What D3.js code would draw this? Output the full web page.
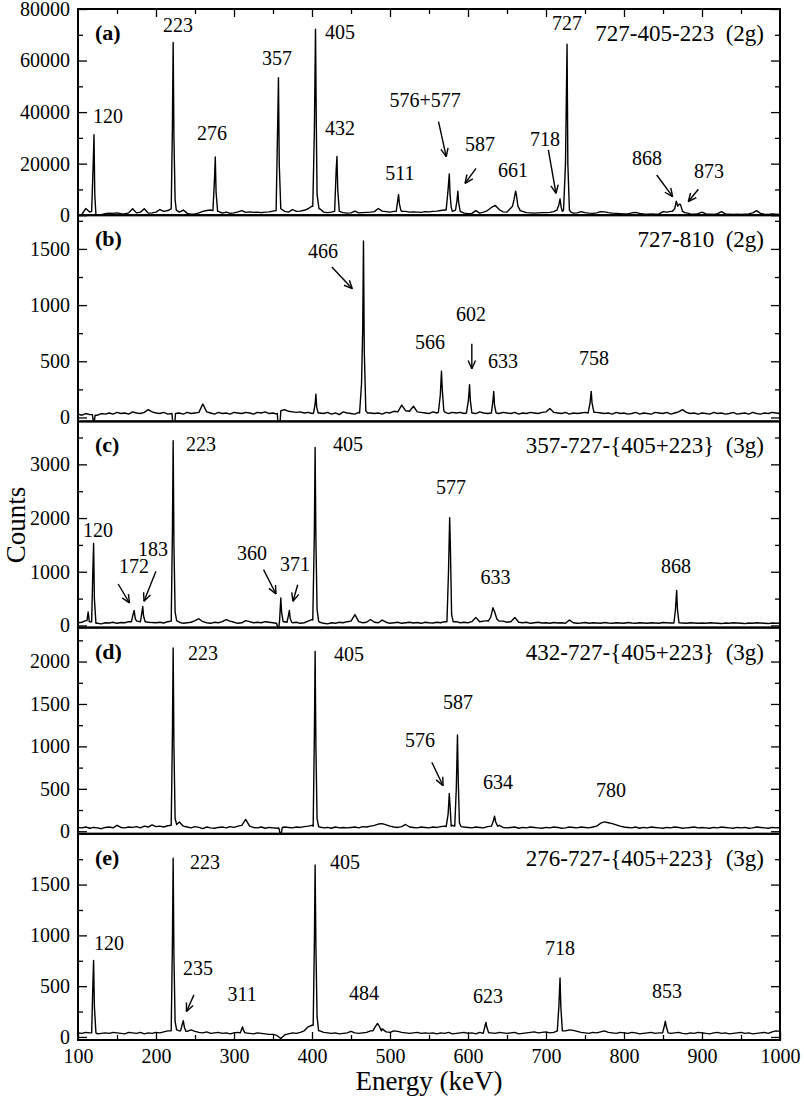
<!DOCTYPE html>
<html>
<head>
<meta charset="utf-8">
<script src="https://cdn.jsdelivr.net/npm/d3@7"></script>
<style>
    body { margin: 0; background: #fff; }
    text { font-family: "Liberation Serif", "Times New Roman", serif; fill: #000; }
</style>
</head>
<body>
<div id="chart"></div>
<script>

// background counts, one value every 5 keV from 100 to 1000 keV
let bgA = [
    200, 300, 2600, 1200, 500, 0, 200, 600, 800, 700,
    900, 600, 500, 900, 2500, 900, 1200, 2500, 800, 900,
    1200, 2200, 1500, 1800, 2500, 3000, 1200, 2000, 700, 400,
    500, 900, 1500, 1800, 2000, 1800, 1500, 800, 1200, 700,
    900, 1300, 1800, 1100, 1300, 1100, 1200, 1000, 1200, 1300,
    1600, 2000, 2500, 1500, 1200, 2200, 1500, 1600, 1900, 2500,
    3500, 3000, 2500, 1200, 1000, 1200, 1500, 1500, 1000, 800,
    900, 1600, 900, 1000, 1100, 1200, 1400, 2600, 1600, 1400,
    1200, 1500, 1800, 1500, 1500, 1200, 1300, 1200, 1100, 1400,
    1300, 1500, 1600, 1800, 2000, 2000, 1500, 1500, 1200, 800,
    600, 700, 1800, 800, 1200, 1800, 3000, 3800, 2200, 1300,
    1200, 2500, 3000, 3000, 1500, 1000, 900, 800, 900, 1000,
    1000, 1100, 1400, 2000, 2500, 2500, 2500, 800, 900, 1400,
    1000, 800, 700, 900, 1400, 1300, 1000, 800, 700, 600,
    500, 500, 900, 1100, 700, 500, 400, 500, 400, 500,
    1400, 1200, 1500, 1500, 1500, 1500, 900, 500, 400, 600,
    1200, 500, 400, 300, 600, 1400, 500, 400, 300, 400,
    300, 400, 500, 900, 1800, 700, 400, 300, 500, 400,
    300
];
let bgB = [
    30, 20, 35, 25, 15, 20, 35, 30, 40, 30,
    45, 35, 40, 30, 50, 40, 35, 45, 70, 50,
    40, 35, 45, 30, 35, 40, 40, 30, 45, 35,
    40, 45, 120, 50, 40, 30, 45, 35, 40, 30,
    45, 40, 35, 45, 40, 30, 45, 40, 50, 35,
    40, 30, 45, 70, 55, 50, 45, 50, 40, 45,
    35, 40, 40, 35, 45, 30, 40, 25, 50, 40,
    35, 30, 45, 35, 40, 40, 35, 40, 30, 45,
    40, 55, 50, 110, 60, 55, 100, 50, 45, 40,
    35, 50, 40, 45, 40, 35, 45, 40, 45, 35,
    40, 45, 35, 50, 40, 35, 40, 50, 35, 45,
    40, 35, 45, 30, 40, 35, 45, 40, 35, 45,
    50, 80, 45, 40, 35, 45, 30, 40, 35, 40,
    45, 40, 35, 45, 40, 35, 40, 30, 45, 35,
    40, 30, 35, 45, 30, 40, 35, 30, 45, 40,
    35, 45, 30, 40, 50, 70, 45, 35, 40, 30,
    40, 35, 30, 45, 35, 40, 30, 35, 45, 30,
    35, 40, 30, 45, 35, 30, 40, 35, 45, 40,
    35
];
let bgC = [
    50, 60, 90, 70, 60, 40, 30, 50, 45, 60,
    40, 55, 50, 70, 80, 90, 70, 80, 60, 55,
    50, 60, 45, 70, 80, 90, 60, 40, 50, 60,
    90, 125, 70, 50, 40, 60, 50, 70, 110, 80,
    60, 40, 50, 90, 70, 50, 60, 50, 70, 60,
    50, 30, 60, 70, 60, 50, 60, 40, 50, 80,
    110, 100, 60, 40, 30, 50, 40, 60, 50, 70,
    80, 200, 70, 50, 60, 110, 60, 50, 100, 60,
    40, 50, 60, 40, 50, 60, 45, 55, 40, 60,
    50, 45, 60, 50, 70, 80, 60, 70, 50, 60,
    50, 70, 150, 70, 80, 90, 200, 330, 200, 80,
    60, 70, 150, 60, 50, 60, 40, 50, 60, 45,
    50, 40, 55, 45, 50, 40, 100, 50, 40, 45,
    55, 40, 50, 45, 40, 55, 45, 40, 50, 45,
    40, 55, 45, 40, 50, 45, 40, 50, 45, 40,
    55, 50, 45, 50, 60, 45, 40, 50, 45, 40,
    45, 40, 50, 45, 40, 35, 45, 40, 50, 45,
    40, 35, 45, 40, 50, 45, 40, 35, 45, 40,
    45
];
let bgD = [
    45, 40, 50, 35, 45, 40, 30, 45, 50, 40,
    70, 45, 40, 50, 45, 55, 40, 60, 50, 75,
    55, 60, 50, 65, 70, 70, 110, 60, 50, 40,
    55, 45, 30, 50, 40, 35, 45, 50, 40, 55,
    45, 60, 70, 140, 60, 45, 40, 50, 35, 45,
    40, 35, 20, 50, 45, 40, 50, 45, 55, 60,
    70, 60, 50, 40, 45, 35, 50, 40, 45, 40,
    45, 50, 40, 55, 50, 60, 70, 85, 90, 75,
    60, 50, 45, 55, 80, 50, 45, 40, 50, 45,
    40, 50, 45, 55, 60, 60, 70, 60, 60, 50,
    45, 40, 50, 45, 40, 55, 60, 170, 70, 45,
    40, 45, 50, 35, 45, 40, 50, 45, 40, 35,
    45, 40, 50, 45, 35, 40, 50, 45, 40, 50,
    45, 40, 50, 60, 95, 110, 100, 90, 75, 60,
    50, 45, 40, 50, 35, 45, 40, 50, 45, 40,
    35, 45, 40, 50, 45, 35, 40, 45, 50, 40,
    45, 40, 35, 45, 40, 50, 45, 40, 35, 45,
    40, 45, 35, 40, 50, 45, 40, 35, 45, 40,
    45
];
let bgE = [
    40, 35, 45, 40, 40, 30, 35, 40, 35, 45,
    40, 35, 30, 45, 40, 35, 45, 30, 40, 35,
    45, 40, 50, 60, 70, 80, 60, 90, 55, 70,
    55, 45, 40, 50, 35, 40, 45, 35, 40, 30,
    40, 45, 50, 40, 35, 30, 40, 35, 30, 25,
    25, 15, -15, 20, 30, 40, 35, 45, 60, 100,
    115, 90, 60, 45, 40, 35, 40, 30, 35, 40,
    55, 40, 35, 40, 45, 60, 100, 130, 80, 50,
    45, 60, 55, 45, 40, 35, 40, 45, 35, 40,
    35, 40, 30, 40, 35, 45, 30, 35, 40, 45,
    35, 40, 30, 45, 35, 40, 40, 35, 45, 40,
    35, 40, 45, 30, 35, 40, 45, 50, 40, 45,
    50, 40, 45, 55, 60, 60, 70, 65, 55, 45,
    40, 35, 45, 40, 50, 60, 45, 40, 35, 45,
    40, 35, 45, 40, 30, 35, 40, 45, 35, 40,
    45, 40, 35, 40, 45, 35, 30, 40, 35, 45,
    40, 35, 30, 40, 45, 35, 40, 30, 35, 40,
    45, 35, 40, 30, 35, 40, 45, 35, 50, 60,
    55
];

// peak shapes, [energy, counts]
let peaksA = [
    [[117.5, 1500], [119.5, 20000], [120.5, 31200], [121.5, 8000], [123, 200]],
    [[219.5, 2500], [221, 33500], [222, 67000], [223, 30000], [224.5, 6000], [226, 2000]],
    [[273, 1800], [275, 14000], [276, 22600], [277, 9000], [279, 1500]],
    [[354, 1800], [356, 35500], [357, 53300], [358, 20000], [360, 2500]],
    [[401, 3500], [403, 32000], [404.5, 72200], [405.5, 36000], [406.5, 8000], [409, 2500]],
    [[429, 1500], [431, 17500], [432, 22800], [433, 10000], [435, 1500]],
    [[508, 1500], [510, 6000], [511, 8000], [512, 4500], [514, 1800]],
    [[572, 2000], [574.5, 10000], [576, 16000], [577, 8000], [578.5, 3000]],
    [[584, 2000], [586, 6000], [587, 9300], [588, 5000], [590, 1500]],
    [[654, 2500], [657, 3500], [659, 6000], [661, 9300], [662, 8000], [664, 3500], [667, 1800]],
    [[714, 2000], [716.5, 4000], [718, 6300], [719.5, 3000], [721, 1500]],
    [[722.5, 2000], [725, 20000], [726, 43500], [727, 66300], [728, 20000], [730, 2000], [732, 1200]],
    [[862, 1500], [865, 2500], [867, 5400], [869, 3500], [871, 4300], [872.5, 4100], [875, 1500], [878, 1000]]
];
let peaksB = [
    [[118.5, 25], [119.5, -30], [121, -30], [122, 20]],
    [[220.5, 35], [221.5, -60], [224, -60], [225, 35]],
    [[355.5, 35], [356.5, -60], [359, -60], [360, 60]],
    [[402, 40], [404, 120], [405, 208], [406, 90], [408, 40]],
    [[461, 40], [463.5, 300], [465, 785], [466, 1570], [467, 600], [469, 60], [471, 40]],
    [[562, 45], [564.5, 200], [566, 411], [567, 250], [569, 60], [571, 45]],
    [[598, 40], [600.5, 150], [602, 292], [603, 150], [605, 40]],
    [[630, 40], [632, 150], [633, 232], [634, 110], [636, 40]],
    [[754, 40], [756.5, 130], [758, 232], [759, 130], [761.5, 45]]
];
let peaksC = [
    [[111.5, 90], [113, 250], [114.5, 70]],
    [[117.5, 70], [119, 1000], [120, 1526], [121, 500], [123, 40]],
    [[168.5, 70], [170.5, 200], [172, 280], [173.5, 120], [175.5, 80]],
    [[180, 70], [182, 250], [183, 355], [184, 180], [186, 70]],
    [[219.5, 80], [221, 1700], [222, 3440], [223, 1500], [224.5, 250], [226.5, 90]],
    [[354.5, 40], [356, -30], [357.5, -30], [358.5, 100], [360, 510], [361, 250], [363, 70]],
    [[368, 60], [370, 200], [371, 280], [372, 130], [374, 60]],
    [[401, 100], [403, 1700], [404, 3314], [405, 1600], [406.5, 300], [408.5, 80]],
    [[573, 70], [575, 1000], [576.5, 2006], [577.5, 1400], [579, 200], [581, 70]],
    [[626, 80], [629, 150], [632, 330], [634, 260], [637, 120], [640, 80]],
    [[864, 45], [866, 300], [867.5, 654], [868.5, 300], [870.5, 50]]
];
let peaksD = [
    [[219.5, 70], [221, 1100], [222, 2160], [223, 1000], [224.5, 150], [226.5, 80]],
    [[357.5, 40], [359, -25], [360.5, -25], [362, 45]],
    [[401.5, 60], [403, 1100], [404, 2120], [405, 1000], [406.5, 150], [408.5, 55]],
    [[572, 55], [574.5, 200], [576, 445], [577, 300], [578.5, 60]],
    [[583, 60], [585, 500], [586.5, 1135], [587.5, 600], [589, 100], [591, 55]],
    [[630, 60], [632.5, 120], [634, 177], [635.5, 110], [638, 60]]
];
let peaksE = [
    [[117.5, 40], [119, 500], [120, 754], [121, 300], [123, 40]],
    [[219.5, 60], [221, 900], [222, 1760], [223, 800], [224.5, 150], [226.5, 70]],
    [[231.5, 60], [233.5, 120], [235, 160], [236.5, 90], [238.5, 55]],
    [[308, 40], [310, 80], [311, 100], [312, 70], [314, 40]],
    [[401.5, 115], [403, 900], [404, 1693], [405, 900], [406.5, 200], [408.5, 60]],
    [[478, 60], [481, 100], [484, 133], [486, 110], [489, 60]],
    [[619.5, 35], [621.5, 100], [623, 143], [624, 100], [626.5, 40]],
    [[714.5, 60], [716.5, 300], [718, 581], [719, 300], [721, 60]],
    [[849.5, 40], [851.5, 100], [853, 156], [854, 110], [856.5, 40]]
];

// peak labels: [text, energy, counts] of the label baseline centre
let labelsA = [
    ["120", 138.5, 35800], ["223", 228.2, 71100], ["276", 271.8, 29200], ["357", 355.1, 58300],
    ["405", 435.9, 68400], ["432", 435.9, 31100], ["511", 512.8, 13700], ["576+577", 544.9, 42000],
    ["587", 615.4, 24900], ["661", 657.7, 14800], ["718", 698.7, 26850], ["727", 726.9, 71860],
    ["868", 829.5, 19480], ["873", 909, 14430]
];
let labelsB = [
    ["466", 414.1, 1419], ["602", 603.8, 858], ["566", 551.3, 609], ["633", 644.9, 440], ["758", 761.5, 467]
];
let labelsC = [
    ["223", 257.7, 3249], ["405", 446.2, 3249], ["577", 578.2, 2448], ["120", 125.6, 1648],
    ["172", 171.8, 977], ["183", 196.2, 1294], ["360", 323.1, 1219], ["371", 378.2, 1014],
    ["633", 635.3, 772], ["868", 866.7, 977]
];
let labelsD = [
    ["223", 260.3, 2018], ["405", 447.4, 2006], ["587", 587.2, 1441], ["576", 538.5, 993],
    ["634", 638.5, 499], ["780", 783.3, 404]
];
let labelsE = [
    ["223", 262.8, 1654], ["405", 442.3, 1654], ["120", 139.7, 857], ["235", 253.8, 611],
    ["311", 310.3, 355], ["484", 466.7, 365], ["623", 625.6, 335], ["718", 717.9, 807],
    ["853", 855.1, 384]
];

// arrows: [energy from, counts from, energy to, counts to]
let arrowsA = [
    [562.2, 36280, 572.1, 22700], [610.3, 18200, 596.2, 12380], [703, 25300, 712.8, 8500],
    [841.9, 15600, 862.4, 7180], [895.3, 10050, 882.4, 5240]
];
let arrowsB = [[425.4, 1339, 451.7, 1146], [604.9, 656, 604.9, 434]];
let arrowsC = [
    [151.5, 772, 166, 418], [199.9, 1009, 184.6, 450], [337.9, 1039, 353.8, 586], [381.7, 759, 375.6, 450]
];
let arrowsD = [[553.6, 813, 568, 537]];
let arrowsE = [[248.7, 414, 239, 250]];

let panelTags = ["(a)", "(b)", "(c)", "(d)", "(e)"];
let panelTitles = ["727-405-223  (2g)", "727-810  (2g)", "357-727-{405+223}  (3g)",
    "432-727-{405+223}  (3g)", "276-727-{405+223}  (3g)"];
let yDomains = [[0, 80000], [-35, 1800], [-40, 3800], [-30, 2400], [-30, 2000]];
let yMajor = [[0, 20000, 40000, 60000, 80000], [0, 500, 1000, 1500], [0, 1000, 2000, 3000],
    [0, 500, 1000, 1500, 2000], [0, 500, 1000, 1500]];
let yMinor = [[10000, 30000, 50000, 70000], [250, 750, 1250, 1750], [500, 1500, 2500, 3500],
    [250, 750, 1250, 1750, 2250], [250, 750, 1250, 1750]];
let xMajor = [100, 200, 300, 400, 500, 600, 700, 800, 900, 1000];
let xMinor = [150, 250, 350, 450, 550, 650, 750, 850, 950];

let panels = [
    {bg: bgA, peaks: peaksA, labels: labelsA, arrows: arrowsA},
    {bg: bgB, peaks: peaksB, labels: labelsB, arrows: arrowsB},
    {bg: bgC, peaks: peaksC, labels: labelsC, arrows: arrowsC},
    {bg: bgD, peaks: peaksD, labels: labelsD, arrows: arrowsD},
    {bg: bgE, peaks: peaksE, labels: labelsE, arrows: arrowsE}
];

let w = 804, h = 1100;
let left = 78, right = 780, top0 = 9, panelH = 206.2;
let serif = "'Liberation Serif', 'Times New Roman', serif";

let svg = d3.select("#chart")
    .append("svg")
    .attr("width", w)
    .attr("height", h);

let x = d3.scaleLinear().domain([100, 1000]).range([left, right]);

// background samples inside a peak window are replaced by the peak points
function spectrum(bg, peaks) {
    let pts = bg.map((c, i) => [100 + 5 * i, c]);
    peaks.forEach((pk) => {
        let lo = pk[0][0], hi = pk[pk.length - 1][0];
        pts = pts.filter((d) => d[0] < lo || d[0] > hi).concat(pk);
    });
    return pts.sort((a, b) => a[0] - b[0]);
}

function arrow(g, x1, y1, x2, y2) {
    let a = Math.atan2(y2 - y1, x2 - x1);
    let len = 9, spread = 0.42;
    g.append("line").attr("x1", x1).attr("y1", y1).attr("x2", x2).attr("y2", y2);
    [-spread, spread].forEach((s) => {
        g.append("line")
            .attr("x1", x2).attr("y1", y2)
            .attr("x2", x2 - len * Math.cos(a + s))
            .attr("y2", y2 - len * Math.sin(a + s));
    });
}

panels.forEach((p, i) => {

    let top = top0 + i * panelH;
    let bottom = top + panelH;
    let y = d3.scaleLinear().domain(yDomains[i]).range([bottom, top]);
    let g = svg.append("g");

    svg.append("clipPath").attr("id", "clip" + i)
        .append("rect")
        .attr("x", left).attr("y", top)
        .attr("width", right - left).attr("height", panelH);

    let line = d3.line()
        .x((d) => x(d[0]))
        .y((d) => y(d[1]));

    g.append("path")
        .datum(spectrum(p.bg, p.peaks))
        .attr("clip-path", "url(#clip" + i + ")")
        .attr("fill", "none")
        .attr("stroke", "#000")
        .attr("stroke-width", 1.4)
        .attr("stroke-linejoin", "round")
        .attr("d", line);

    // y axes, ticks pointing inward on both sides
    let yl = g.append("g").attr("transform", "translate(" + left + ",0)")
        .call(d3.axisLeft(y).tickValues(yMajor[i]).tickSize(-9).tickPadding(8).tickFormat(d3.format("d")));
    g.append("g").attr("transform", "translate(" + left + ",0)")
        .call(d3.axisLeft(y).tickValues(yMinor[i]).tickSize(-5).tickFormat(""));
    g.append("g").attr("transform", "translate(" + right + ",0)")
        .call(d3.axisRight(y).tickValues(yMajor[i]).tickSize(-9).tickFormat(""));
    g.append("g").attr("transform", "translate(" + right + ",0)")
        .call(d3.axisRight(y).tickValues(yMinor[i]).tickSize(-5).tickFormat(""));
    yl.selectAll("text").style("font-size", "20px").style("font-family", serif);

    if (i === 0) {
        g.append("g").attr("transform", "translate(0," + top + ")")
            .call(d3.axisTop(x).tickValues(xMajor.slice(1, -1)).tickSize(-8).tickFormat(""));
        g.append("g").attr("transform", "translate(0," + top + ")")
            .call(d3.axisTop(x).tickValues(xMinor).tickSize(-5).tickFormat(""));
    }
    if (i === panels.length - 1) {
        let xb = g.append("g").attr("transform", "translate(0," + bottom + ")")
            .call(d3.axisBottom(x).tickValues(xMajor).tickSize(-8).tickPadding(9).tickFormat(d3.format("d")));
        g.append("g").attr("transform", "translate(0," + bottom + ")")
            .call(d3.axisBottom(x).tickValues(xMinor).tickSize(-5).tickFormat(""));
        xb.selectAll("text").style("font-size", "20px").style("font-family", serif);
    }
    g.selectAll(".domain").remove();
    g.selectAll(".tick line").attr("stroke", "#000").attr("stroke-width", 1.3);

    g.append("rect")
        .attr("x", left).attr("y", top)
        .attr("width", right - left).attr("height", panelH)
        .attr("fill", "none")
        .attr("stroke", "#000")
        .attr("stroke-width", 2);

    g.append("text")
        .attr("x", 95).attr("y", top + 31)
        .style("font-size", "22px").style("font-weight", "bold")
        .text(panelTags[i]);

    g.append("text")
        .attr("x", 764).attr("y", top + 32)
        .attr("text-anchor", "end")
        .style("font-size", "23px").style("white-space", "pre")
        .text(panelTitles[i]);

    g.selectAll(".peak")
        .data(p.labels)
        .enter()
        .append("text")
        .attr("class", "peak")
        .attr("x", (d) => x(d[1]))
        .attr("y", (d) => y(d[2]))
        .attr("text-anchor", "middle")
        .style("font-size", "20px")
        .text((d) => d[0]);

    let ag = g.append("g").attr("stroke", "#000").attr("stroke-width", 1.4);
    p.arrows.forEach((a) => arrow(ag, x(a[0]), y(a[1]), x(a[2]), y(a[3])));

});

svg.append("text")
    .attr("transform", "translate(25,525) rotate(-90)")
    .attr("text-anchor", "middle")
    .style("font-size", "27px")
    .text("Counts");

svg.append("text")
    .attr("x", 429).attr("y", 1090)
    .attr("text-anchor", "middle")
    .style("font-size", "27px")
    .text("Energy (keV)");

</script>
</body>
</html>
